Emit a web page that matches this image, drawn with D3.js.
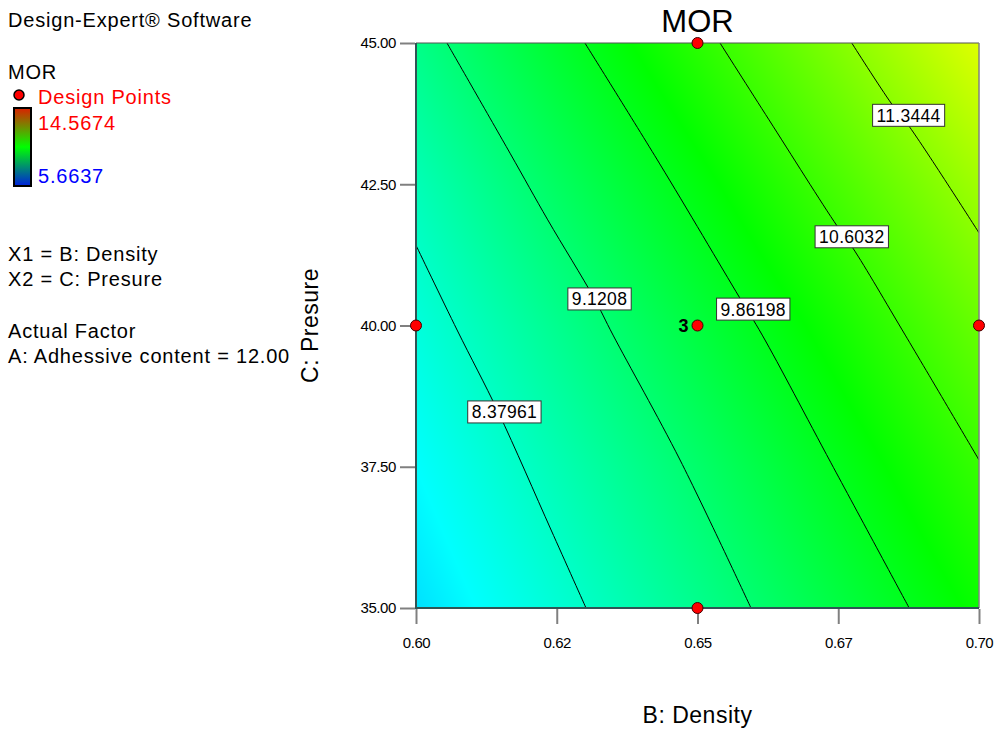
<!DOCTYPE html>
<html>
<head>
<meta charset="utf-8">
<script src="https://cdn.jsdelivr.net/npm/d3@7"></script>
<style>
  html, body { margin: 0; padding: 0; background: #fff; }
  svg text { font-family: "Liberation Sans", Arial, sans-serif; }
</style>
</head>
<body>
<svg id="chart" width="998" height="734"></svg>
<script>
// ---------------- DATA ----------------
const title = "MOR";
const xTickValues = [0.6, 0.625, 0.65, 0.675, 0.7];
const xTickLabels = ["0.60", "0.62", "0.65", "0.67", "0.70"];
const yTickValues = [35, 37.5, 40, 42.5, 45];
const yTickLabels = ["35.00", "37.50", "40.00", "42.50", "45.00"];

// estimated MOR surface on a coarse grid (rows = pressure, cols = density)
const densityGrid = [0.6, 0.625, 0.65, 0.675, 0.7];
const pressureGrid = [35, 37.5, 40, 42.5, 45];
const morGrid = [
  [7.62, 8.25, 8.88, 9.53, 10.19],
  [7.89, 8.54, 9.19, 9.88, 10.58],
  [8.19, 8.87, 9.57, 10.28, 11.02],
  [8.52, 9.27, 10.00, 10.75, 11.51],
  [8.93, 9.71, 10.48, 11.26, 12.06]
];
const morMin = 5.6637, morMax = 14.5674;

// contour lines [density, pressure]
const contourLevels = ["8.37961", "9.1208", "9.86198", "10.6032", "11.3444"];
const contour1 = [[0.6, 41.42], [0.6073, 39.92], [0.6146, 38.47], [0.6240, 36.38], [0.6302, 35]];
const contour2 = [[0.6055, 45], [0.6167, 43.05], [0.6234, 41.87], [0.6316, 40.49], [0.6350, 39.83], [0.6469, 37.62], [0.6595, 35]];
const contour3 = [[0.6300, 45], [0.6433, 42.86], [0.6575, 40.49], [0.6615, 39.83], [0.6737, 37.57], [0.6876, 35]];
const contour4 = [[0.6540, 45], [0.6627, 43.64], [0.6748, 41.76], [0.6776, 41.37], [0.6869, 39.83], [0.7, 37.62]];
const contour5 = [[0.6774, 45], [0.6845, 43.92], [0.6877, 43.51], [0.7, 41.64]];
const contourLines = [contour1, contour2, contour3, contour4, contour5];
const labelPositions = [[0.6157, 38.47], [0.6326, 40.47], [0.6599, 40.29], [0.6774, 41.57], [0.6875, 43.72]];

// design points [density, pressure, replicate label]
const designDensity = [0.6, 0.65, 0.65, 0.65, 0.7];
const designPressure = [40, 45, 40, 35, 40];
const designReps = ["", "", "3", "", ""];

const legendLines = ["X1 = B: Density", "X2 = C: Presure"];
const factorLines = ["Actual Factor", "A: Adhessive content = 12.00"];

// ---------------- DRAW ----------------
const svg = d3.select("#chart");
const x = d3.scaleLinear().domain([0.6, 0.7]).range([416, 979]);
const y = d3.scaleLinear().domain([35, 45]).range([608, 43]);
const pw = x.range()[1] - x.range()[0];
const ph = y.range()[0] - y.range()[1];

// colour map (Design-Expert style: blue-cyan-green-yellow-red)
const cmap = d3.scaleLinear()
  .domain([0, 0.25, 0.5, 0.75, 1])
  .range(["#0000ff", "#00ffff", "#00ff00", "#ffff00", "#ff0000"])
  .clamp(true);

function bilinear(d, p) {
  const fi = (d - densityGrid[0]) / (densityGrid[1] - densityGrid[0]);
  const fj = (p - pressureGrid[0]) / (pressureGrid[1] - pressureGrid[0]);
  const i0 = Math.max(0, Math.min(densityGrid.length - 2, Math.floor(fi)));
  const j0 = Math.max(0, Math.min(pressureGrid.length - 2, Math.floor(fj)));
  const tx = fi - i0, ty = fj - j0;
  const a = morGrid[j0][i0], b = morGrid[j0][i0 + 1];
  const c = morGrid[j0 + 1][i0], e = morGrid[j0 + 1][i0 + 1];
  return (a * (1 - tx) + b * tx) * (1 - ty) + (c * (1 - tx) + e * tx) * ty;
}

const canvas = document.createElement("canvas");
canvas.width = pw; canvas.height = ph;
const ctx = canvas.getContext("2d");
const img = ctx.createImageData(pw, ph);
for (let j = 0; j < ph; j++) {
  const p = y.invert(y.range()[1] + j + 0.5);
  for (let i = 0; i < pw; i++) {
    const d = x.invert(x.range()[0] + i + 0.5);
    const v = bilinear(d, p);
    const col = d3.rgb(cmap((v - morMin) / (morMax - morMin)));
    const k = (j * pw + i) * 4;
    img.data[k] = col.r; img.data[k + 1] = col.g; img.data[k + 2] = col.b; img.data[k + 3] = 255;
  }
}
ctx.putImageData(img, 0, 0);
svg.append("image")
  .attr("x", x.range()[0]).attr("y", y.range()[1])
  .attr("width", pw).attr("height", ph)
  .attr("preserveAspectRatio", "none")
  .attr("href", canvas.toDataURL());

// clip
svg.append("clipPath").attr("id", "plotclip")
  .append("rect").attr("x", x.range()[0]).attr("y", y.range()[1]).attr("width", pw).attr("height", ph);

// contour lines
const line = d3.line().x(d => x(d[0])).y(d => y(d[1])).curve(d3.curveCatmullRom.alpha(0.5));
svg.append("g").attr("clip-path", "url(#plotclip)")
  .selectAll("path").data(contourLines).join("path")
  .attr("d", line).attr("fill", "none").attr("stroke", "#000").attr("stroke-width", 1);

// frame
svg.append("line").attr("x1", x.range()[0]).attr("x2", x.range()[1]).attr("y1", y.range()[1]).attr("y2", y.range()[1])
  .attr("stroke", "#555").attr("stroke-width", 1.2);
svg.append("line").attr("x1", x.range()[1]).attr("x2", x.range()[1]).attr("y1", y.range()[1]).attr("y2", y.range()[0])
  .attr("stroke", "#808080").attr("stroke-width", 1.5);
svg.append("line").attr("x1", x.range()[0]).attr("x2", x.range()[0]).attr("y1", y.range()[1]).attr("y2", y.range()[0] + 1)
  .attr("stroke", "#2f5555").attr("stroke-width", 2);
svg.append("line").attr("x1", x.range()[0]).attr("x2", x.range()[1]).attr("y1", y.range()[0]).attr("y2", y.range()[0])
  .attr("stroke", "#2f5555").attr("stroke-width", 2);

// axes
const xAxis = d3.axisBottom(x).tickValues(xTickValues)
  .tickFormat((d, i) => xTickLabels[i]).tickSize(15).tickSizeOuter(0).tickPadding(13);
const gx = svg.append("g").attr("transform", `translate(0,${y.range()[0] + 1})`).call(xAxis);
gx.select(".domain").remove();
gx.selectAll(".tick line").attr("stroke", "#808080").attr("stroke-width", 2);
gx.selectAll(".tick text").attr("font-size", 15).attr("letter-spacing", -0.4).attr("fill", "#000")
  .attr("font-family", "Liberation Sans, Arial, sans-serif");

const yAxis = d3.axisLeft(y).tickValues(yTickValues)
  .tickFormat((d, i) => yTickLabels[i]).tickSize(15).tickSizeOuter(0).tickPadding(4);
const gy = svg.append("g").attr("transform", `translate(${x.range()[0] - 1},0)`).call(yAxis);
gy.select(".domain").remove();
gy.selectAll(".tick line").attr("stroke", "#808080").attr("stroke-width", 2);
gy.selectAll(".tick text").attr("font-size", 15).attr("letter-spacing", -0.4).attr("fill", "#000")
  .attr("font-family", "Liberation Sans, Arial, sans-serif");

// contour labels
const lg = svg.append("g");
contourLevels.forEach((lab, i) => {
  const cx = x(labelPositions[i][0]), cy = y(labelPositions[i][1]);
  const g = lg.append("g");
  const r = g.append("rect");
  const t = g.append("text").attr("x", cx).attr("y", cy + 6.5)
    .attr("text-anchor", "middle").attr("font-size", 17.5).attr("letter-spacing", 0.3)
    .attr("fill", "#000").text(lab);
  const w = t.node().getComputedTextLength() + 8;
  r.attr("x", cx - w / 2).attr("y", cy - 11).attr("width", w).attr("height", 22)
    .attr("fill", "#fff").attr("stroke", "#333").attr("stroke-width", 1);
});

// design points
const pts = designDensity.map((d, i) => ({ d, p: designPressure[i], r: designReps[i] }));
svg.append("g").selectAll("circle").data(pts).join("circle")
  .attr("cx", d => x(d.d)).attr("cy", d => y(d.p)).attr("r", 5.5)
  .attr("fill", "#ff0000").attr("stroke", "#400000").attr("stroke-width", 1);
svg.append("g").selectAll("text").data(pts.filter(d => d.r)).join("text")
  .attr("x", d => x(d.d) - 9).attr("y", d => y(d.p) + 6)
  .attr("text-anchor", "end").attr("font-size", 18).attr("font-weight", "bold").text(d => d.r);

// title & axis titles
svg.append("text").attr("x", (x.range()[0] + x.range()[1]) / 2).attr("y", 32)
  .attr("text-anchor", "middle").attr("font-size", 31).text(title);
svg.append("text").attr("x", (x.range()[0] + x.range()[1]) / 2).attr("y", 723)
  .attr("text-anchor", "middle").attr("font-size", 23).attr("letter-spacing", 0.5).text("B: Density");
svg.append("text").attr("transform", `translate(318,${(y.range()[0] + y.range()[1]) / 2}) rotate(-90)`)
  .attr("text-anchor", "middle").attr("font-size", 23).attr("letter-spacing", 0.5).text("C: Presure");

// left info panel
const info = svg.append("g").attr("font-size", 20).attr("letter-spacing", 0.8);
info.append("text").attr("x", 8).attr("y", 27).text("Design-Expert® Software");
info.append("text").attr("x", 8).attr("y", 79).text(title);
info.append("circle").attr("cx", 19).attr("cy", 95).attr("r", 5).attr("fill", "#ff0000").attr("stroke", "#000").attr("stroke-width", 1.5);
info.append("text").attr("x", 38).attr("y", 104).attr("fill", "#ff0000").text("Design Points");

const defs = svg.append("defs");
const grad = defs.append("linearGradient").attr("id", "lgrad").attr("x1", 0).attr("y1", 0).attr("x2", 0).attr("y2", 1);
grad.append("stop").attr("offset", "0%").attr("stop-color", "#dc2000");
grad.append("stop").attr("offset", "50%").attr("stop-color", "#00ff00");
grad.append("stop").attr("offset", "100%").attr("stop-color", "#0020dc");
info.append("rect").attr("x", 14).attr("y", 108).attr("width", 17).attr("height", 78)
  .attr("fill", "url(#lgrad)").attr("stroke", "#000").attr("stroke-width", 2);
info.append("text").attr("x", 38).attr("y", 130).attr("fill", "#ff0000").text(String(morMax));
info.append("text").attr("x", 38).attr("y", 183).attr("fill", "#0000ff").text(String(morMin));

legendLines.forEach((s, i) => info.append("text").attr("x", 8).attr("y", 261 + i * 25).text(s));
factorLines.forEach((s, i) => info.append("text").attr("x", 8).attr("y", 338 + i * 25).text(s));
</script>
</body>
</html>
